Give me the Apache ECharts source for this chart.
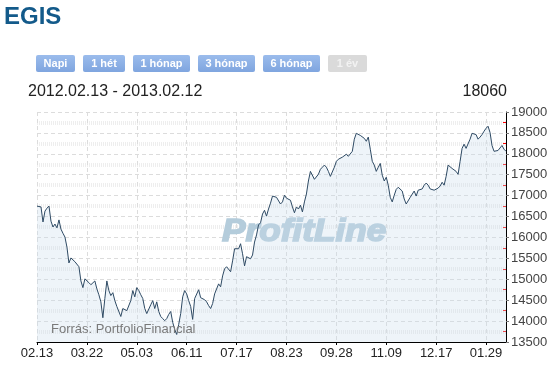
<!DOCTYPE html>
<html>
<head>
<meta charset="utf-8">
<script src="https://cdn.jsdelivr.net/npm/echarts@6/dist/echarts.min.js"></script>
<style>
html,body{margin:0;padding:0;background:#fff;}
#c{width:560px;height:366px;}
</style>
</head>
<body>
<div id="c"></div>
<script>
const title = 'EGIS';
const periodText = '2012.02.13 - 2013.02.12';
const lastValue = '18060';
const buttons = ['Napi', '1 hét', '1 hónap', '3 hónap', '6 hónap', '1 év'];
const tickLabels = ['02.13', '03.22', '05.03', '06.11', '07.17', '08.23', '09.28', '11.09', '12.17', '01.29'];
const tickStep = 25;
const prices = [
16750,16770,16730,16370,16630,16700,16750,16390,16250,16320,
16230,16420,16200,16100,16010,15770,15390,15510,15540,15420,
15440,15300,14960,14800,15010,15010,14920,14870,14850,14960,
14770,14630,14460,14080,14540,14960,14730,14610,14680,14490,
14350,14370,14110,14300,14300,14250,14230,14490,14730,14580,
14800,14730,14630,14540,14300,14180,14200,14390,14490,14300,
14460,14230,14110,14060,14010,14060,14160,14230,13970,13800,
13680,13920,14180,14580,14730,14650,14490,14350,14040,14540,
14580,14750,14560,14540,14510,14460,14370,14300,14420,14650,
14680,14890,14820,15080,15250,15300,15300,15180,15440,15730,
15770,15730,15850,15610,15320,15540,15510,15490,15580,15890,
16060,16300,16350,16560,16650,16510,16680,16820,16990,17010,
16960,16920,16800,16850,17010,16940,16940,16890,16730,16590,
16730,16680,16770,16610,16850,17040,17350,17580,17560,17390,
17370,17510,17630,17680,17730,17680,17580,17460,17440,17680,
17820,17870,17890,17920,17940,17990,17940,17960,18060,18350,
18490,18490,18440,18420,18370,18300,18400,18110,17820,17730,
17580,17680,17770,17490,17350,17440,17250,16960,16850,17010,
17150,17200,17200,17110,16920,16800,16780,16960,16990,17110,
16990,17130,17110,17160,17250,17300,17250,17160,17130,17130,
17130,17180,17230,17320,17250,17460,17730,17770,17650,17630,
17580,17510,17820,18130,18230,18130,18130,18350,18490,18460,
18460,18350,18400,18460,18540,18610,18660,18510,18200,18060,
18080,18080,18040,18200,18110,18060
];
const categories = prices.map((_, i) => String(i));

const chart = echarts.init(document.getElementById('c'), null, {renderer: 'canvas'});

const btnPos = [[36, 39], [83, 42], [133, 57], [198, 57], [263, 57], [328, 39]];
const graphics = [];
buttons.forEach((b, i) => {
  const active = i < buttons.length - 1;
  graphics.push({
    type: 'rect', left: btnPos[i][0], top: 55, z: 10,
    shape: {width: btnPos[i][1], height: 17, r: 2},
    style: {fill: active ? new echarts.graphic.LinearGradient(0, 0, 0, 1, [{offset: 0, color: '#9bbcec'}, {offset: 1, color: '#7fa5df'}]) : '#dadada'}
  });
  graphics.push({
    type: 'text', z: 11,
    x: btnPos[i][0] + btnPos[i][1] / 2, y: 63.5,
    style: {text: b, fill: active ? '#ffffff' : '#f2f2f2', font: 'bold 11px "Liberation Sans", Arial, sans-serif', textAlign: 'center', textVerticalAlign: 'middle'}
  });
});
graphics.push({
  type: 'text', x: 4, y: 17, z: 10,
  style: {text: title, fill: '#135a8a', font: 'bold 24px "Liberation Sans", Arial, sans-serif', textVerticalAlign: 'middle'}
});
graphics.push({
  type: 'text', x: 28, y: 92, z: 10,
  style: {text: periodText, fill: '#222', font: '16px "Liberation Sans", Arial, sans-serif', textVerticalAlign: 'middle'}
});
graphics.push({
  type: 'text', x: 507, y: 92, z: 10,
  style: {text: lastValue, fill: '#222', font: '16px "Liberation Sans", Arial, sans-serif', textAlign: 'right', textVerticalAlign: 'middle'}
});
graphics.push({
  type: 'text', x: 222, y: 232, z: 1, scaleX: 1.1,
  style: {text: 'ProfitLine', fill: '#b4ccdb', stroke: '#b4ccdb', lineWidth: 1.6, font: 'italic bold 32px "Liberation Sans", Arial, sans-serif', textVerticalAlign: 'middle'}
});
graphics.push({
  type: 'text', x: 51, y: 329, z: 10,
  style: {text: 'Forrás: PortfolioFinancial', fill: '#7a7a7a', font: '13px "Liberation Sans", Arial, sans-serif', textVerticalAlign: 'middle'}
});

chart.setOption({
  animation: false,
  backgroundColor: '#fff',
  grid: {left: 37, right: 54, top: 112, bottom: 24, containLabel: false},
  graphic: graphics,
  xAxis: {
    type: 'category', data: categories, boundaryGap: false,
    axisLine: {show: true, lineStyle: {color: '#000', width: 1}},
    axisTick: {show: true, interval: tickStep - 1, length: 3, lineStyle: {color: '#000'}},
    axisLabel: {
      interval: tickStep - 1, margin: 5, fontSize: 13, color: '#222',
      fontFamily: '"Liberation Sans", Arial, sans-serif',
      formatter: (v, idx) => tickLabels[Math.round(idx / tickStep)] || ''
    },
    splitLine: {show: true, interval: tickStep - 1, lineStyle: {color: '#dcdcdc', type: [4, 3]}}
  },
  yAxis: [
    {
      type: 'value', position: 'right', min: 13500, max: 19000, interval: 500,
      axisLine: {show: true, lineStyle: {color: '#000', width: 1}},
      axisTick: {show: true, length: 3, lineStyle: {color: '#777'}},
      axisLabel: {margin: 5, fontSize: 13, color: '#444', fontFamily: '"Liberation Sans", Arial, sans-serif', formatter: v => String(v)},
      splitLine: {show: true, lineStyle: {color: '#dcdcdc', type: [4, 3]}}
    },
    {
      type: 'value', position: 'right', min: 13500, max: 19000, interval: 500,
      axisLine: {show: false},
      axisTick: {show: false, inside: true},
      axisLabel: {show: false},
      splitLine: {show: false},
      minorTick: {show: true, splitNumber: 2, length: 3, lineStyle: {color: '#ff0000'}},
      minorSplitLine: {show: true, lineStyle: {color: '#eeeeee', width: 4, type: [1, 1]}}
    }
  ],
  series: [{
    type: 'line', data: prices, yAxisIndex: 0, showSymbol: false, z: 3,
    lineStyle: {color: '#2e4a64', width: 1},
    areaStyle: {color: 'rgba(200,219,236,0.45)'}
  }]
});
</script>
</body>
</html>
